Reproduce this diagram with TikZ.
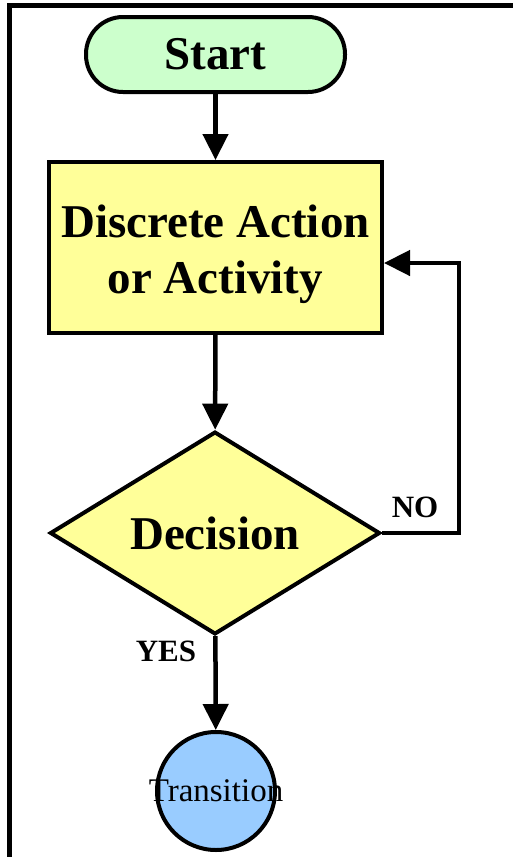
\documentclass[tikz,border=0pt]{standalone}
\usepackage{fontspec}
\setmainfont{Liberation Serif}
\usetikzlibrary{shapes.geometric,arrows.meta}
\definecolor{startgreen}{RGB}{204,255,204}
\definecolor{actyellow}{RGB}{255,255,153}
\definecolor{transblue}{RGB}{153,204,255}

\begin{document}
\begin{tikzpicture}[x=1pt,y=-1pt,
    box/.style={draw,line width=4pt,inner sep=0pt,font=\fontsize{47}{56}\selectfont\bfseries},
    arr/.style={line width=4.5pt,-{Triangle[length=26pt,width=25pt]}},
    lbl/.style={anchor=base,font=\fontsize{31}{36}\selectfont\bfseries}]
        \useasboundingbox (0,0) rectangle (512,857);
        \draw[line width=5pt] (9.5,860) |- (515,5);
        \node[box,fill=startgreen,rounded corners=37pt,minimum width=259pt,minimum height=75pt] (start) at (215.5,54.5) {Start};
        \node[box,fill=actyellow,align=center,minimum width=333pt,minimum height=171pt] (act) at (215.5,247.5) {\rule{0pt}{47pt}Discrete Action\\or Activity};
        \node[box,fill=actyellow,shape=diamond,minimum width=330pt,minimum height=200pt] (dec) at (215,533) {Decision};
        \node[draw,line width=4pt,fill=transblue,circle,minimum size=118pt,inner sep=0pt,
              label={[font=\fontsize{33}{38}\selectfont]center:Transition}] (trans) at (216,791) {};
        \coordinate (loop) at (459,263);
        \draw[arr] (start) -- (act);
        \draw[arr] (act) -- (dec);
        \draw[arr] (dec) -- (trans);
        \draw[arr] (dec.east) -| (loop) -- (act.east |- loop);
        \node[lbl] (no) at (415,517) {NO};
        \node[lbl] (yes) at (166,661) {YES};
    \end{tikzpicture}
\end{document}
